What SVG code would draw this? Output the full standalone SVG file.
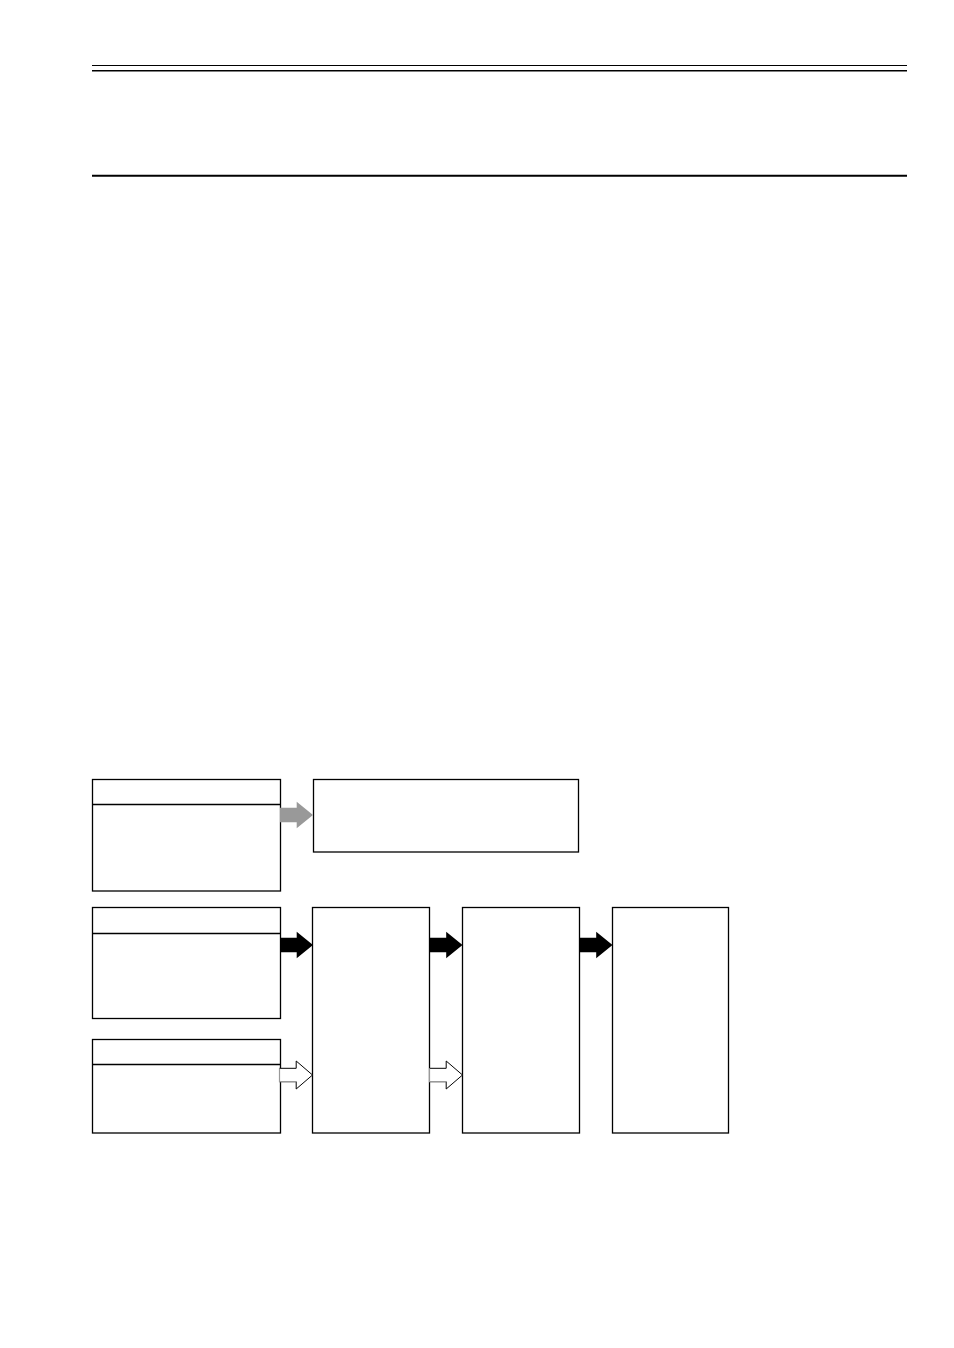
<svg xmlns="http://www.w3.org/2000/svg" width="954" height="1348" viewBox="0 0 954 1348">
<style>
.box{fill:#fff;stroke:#000;stroke-width:1.3}
.div{stroke:#000;stroke-width:1.3}
.ab{fill:#000;stroke:none}
.ag{fill:#999;stroke:none}
.aw{fill:#fff;stroke:#000;stroke-width:1}
.aws{fill:none;stroke:#999;stroke-width:1.2}
</style>
<defs>
<polygon id="arrowShape" points="0,-7.3 16.7,-7.3 16.7,-13.3 33,0 16.7,13.3 16.7,7.3 0,7.3"/>
<polygon id="arrowW" points="0,-6.7 16.7,-6.7 16.7,-14 33,0 16.7,14 16.7,6.7 0,6.7"/>
</defs>
<g id="header">
<line x1="92" y1="65.5" x2="907" y2="65.5" stroke="#000" stroke-width="1"/>
<line x1="92" y1="70.7" x2="907" y2="70.7" stroke="#000" stroke-width="1.5"/>
<line x1="92" y1="175.7" x2="907" y2="175.7" stroke="#000" stroke-width="2"/>
</g>
<g id="node-a">
<rect class="box" x="92.5" y="779.5" width="188" height="111.5"/>
<line class="div" x1="92.5" y1="804.5" x2="280.5" y2="804.5"/>
</g>
<g id="node-b">
<rect class="box" x="313.5" y="779.5" width="265" height="72.5"/>
</g>
<g id="node-c">
<rect class="box" x="92.5" y="907.5" width="188" height="111"/>
<line class="div" x1="92.5" y1="933.5" x2="280.5" y2="933.5"/>
</g>
<g id="node-d">
<rect class="box" x="92.5" y="1039.5" width="188" height="93.5"/>
<line class="div" x1="92.5" y1="1064.5" x2="280.5" y2="1064.5"/>
</g>
<g id="node-e">
<rect class="box" x="312.5" y="907.5" width="117" height="225.5"/>
</g>
<g id="node-f">
<rect class="box" x="462.5" y="907.5" width="117" height="225.5"/>
</g>
<g id="node-g">
<rect class="box" x="612.5" y="907.5" width="116" height="225.5"/>
</g>
<g id="connectors">
<use href="#arrowShape" class="ag" transform="translate(280,815)"/>
<use href="#arrowShape" class="ab" transform="translate(280,945)"/>
<use href="#arrowShape" class="ab" transform="translate(429.5,945)"/>
<use href="#arrowShape" class="ab" transform="translate(579.5,945)"/>
<use href="#arrowW" class="aw" transform="translate(279.5,1075)"/>
<polyline class="aws" points="279.5,1068.3 279.5,1081.7 296.2,1081.7"/>
<use href="#arrowW" class="aw" transform="translate(429.5,1075)"/>
<polyline class="aws" points="429.5,1068.3 429.5,1081.7 446.2,1081.7"/>
</g>
</svg>
